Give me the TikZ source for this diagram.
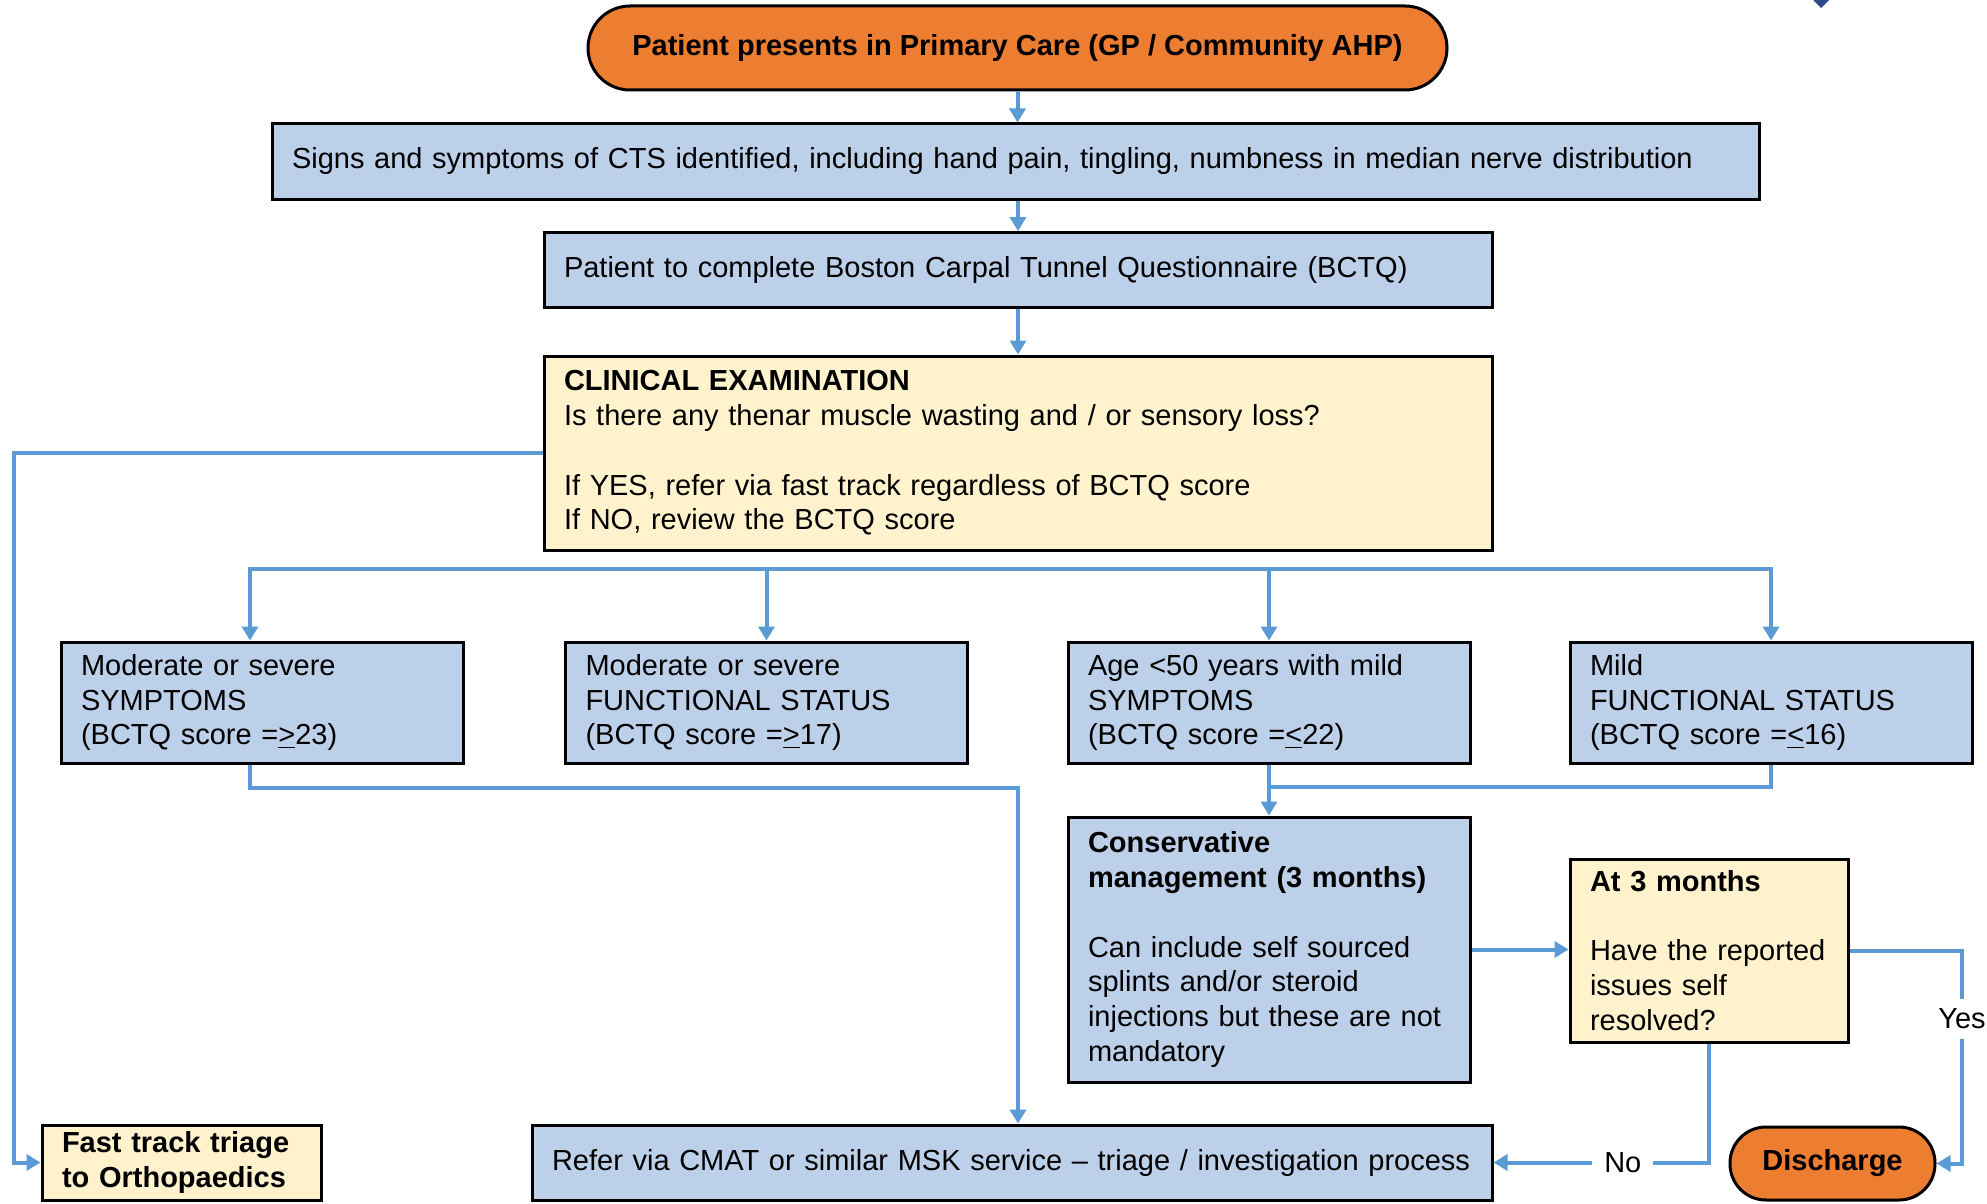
\documentclass[tikz,border=0pt]{standalone}
\usepackage{fontspec}
\setmainfont{Liberation Sans}
\usetikzlibrary{arrows.meta,calc}
\definecolor{boxblue}{HTML}{BDD0E9}
\definecolor{boxyel}{HTML}{FFF2CC}
\definecolor{pillorange}{HTML}{ED7D31}
\definecolor{linkblue}{HTML}{5B9BD5}
\definecolor{logoblue}{HTML}{2F4A8C}
\begin{document}
\begin{tikzpicture}[x=0.5pt,y=-0.5pt,
  every node/.style={font=\fontsize{14.5}{17.4}\selectfont},
  box/.style={draw=black, line width=1.5pt, inner xsep=10pt, inner ysep=0pt, align=left},
  bluebox/.style={box, fill=boxblue},
  yelbox/.style={box, fill=boxyel},
  pill/.style={draw=black, line width=1.5pt, fill=pillorange, font=\fontsize{14.5}{17.4}\selectfont\bfseries},
  link/.style={draw=linkblue, line width=2pt},
  arr/.style={link, -{Triangle[width=8pt,length=7pt]}},
  lbl/.style={fill=white, inner xsep=6pt, inner ysep=5pt}
]
\useasboundingbox (0,0) rectangle (1987,1204);
% logo fragment
\fill[logoblue] (1813,0) -- (1829,0) -- (1821,8) -- cycle;

\node[pill, rounded corners=21pt, minimum width=429.5pt, minimum height=42pt] (top) at (1017.5,48) {Patient presents in Primary Care (GP / Community AHP)};

\node[bluebox, text width=723.5pt, minimum height=37.5pt] (signs) at (1015.5,161.5) {Signs and symptoms of CTS identified, including hand pain, tingling, numbness in median nerve distribution};

\node[bluebox, text width=454pt, minimum height=37.5pt] (bctq) at (1018,270) {Patient to complete Boston Carpal Tunnel Questionnaire (BCTQ)};

\node[yelbox, text width=454pt, minimum height=97pt] (clin) at (1018,453) {\textbf{CLINICAL EXAMINATION}\\Is there any thenar muscle wasting and / or sensory loss?\\[17.4pt]If YES, refer via fast track regardless of BCTQ score\\If NO, review the BCTQ score};

\node[bluebox, text width=181pt, minimum height=60.5pt] (b1) at (262,702.5) {Moderate or severe\\SYMPTOMS\\(BCTQ score =\underline{>}23)};
\node[bluebox, text width=181pt, minimum height=60.5pt] (b2) at (766.5,702.5) {Moderate or severe\\FUNCTIONAL STATUS\\(BCTQ score =\underline{>}17)};
\node[bluebox, text width=181pt, minimum height=60.5pt] (b3) at (1269,702.5) {Age <50 years with mild\\SYMPTOMS\\(BCTQ score =\underline{<}22)};
\node[bluebox, text width=181pt, minimum height=60.5pt] (b4) at (1771,702.5) {Mild\\FUNCTIONAL STATUS\\(BCTQ score =\underline{<}16)};

\node[bluebox, text width=181pt, minimum height=132.5pt] (cons) at (1269,949.5) {\textbf{Conservative}\\\textbf{management (3 months)}\\[17.4pt]Can include self sourced\\splints and/or steroid\\injections but these are not\\mandatory};

\node[yelbox, text width=119pt, minimum height=91.5pt] (at3) at (1709,950.5) {\textbf{At 3 months}\\[17.4pt]Have the reported\\issues self\\resolved?};

\node[yelbox, text width=119.5pt, minimum height=37.5pt, font=\fontsize{14.5}{17.4}\selectfont\bfseries] (fast) at (181.5,1162.5) {Fast track triage\\to Orthopaedics};

\node[bluebox, text width=460pt, minimum height=37.5pt] (refer) at (1012,1162.5) {Refer via CMAT or similar MSK service -- triage / investigation process};

\node[pill, rounded corners=18pt, minimum width=102.5pt, minimum height=36.5pt] (disc) at (1832.5,1163.5) {Discharge};

% coordinates
\coordinate (bus) at (0,569);
\coordinate (b1x) at (250,0);
\coordinate (leftx) at (14,0);
\coordinate (k1) at (1018,788);
\coordinate (j1) at (1269,787);
\coordinate (yesx) at (1962,0);

% connectors
\draw[arr] (top.south) -- (top.south |- signs.north);
\draw[arr] (signs.south -| bctq.north) -- (bctq.north);
\draw[arr] (bctq.south) -- (clin.north);

\draw[arr] (b3.north |- bus) -- (b1x |- bus) -- (b1x |- b1.north);
\draw[arr] (b3.north |- bus) -- (b4.north |- bus) -- (b4.north);
\draw[arr] (b2.north |- bus) -- (b2.north);
\draw[arr] (b3.north |- bus) -- (b3.north);

\draw[arr] (clin.west) -- (clin.west -| leftx) |- (fast.west);

\draw[arr] (b1x |- b1.south) |- (k1) -- (k1 |- refer.north);

\draw[arr] (b3.south) -- (cons.north);
\draw[link] (b4.south) |- (j1);

\draw[arr] (cons.east) -- (cons.east -| at3.west);

\draw[arr] (at3.east) -- (at3.east -| yesx) |- (disc.east)
  node[lbl, pos=0.16] {Yes};
\draw[arr] (at3.south) |- (refer.east)
  node[lbl, pos=0.7] {No};
\end{tikzpicture}
\end{document}
